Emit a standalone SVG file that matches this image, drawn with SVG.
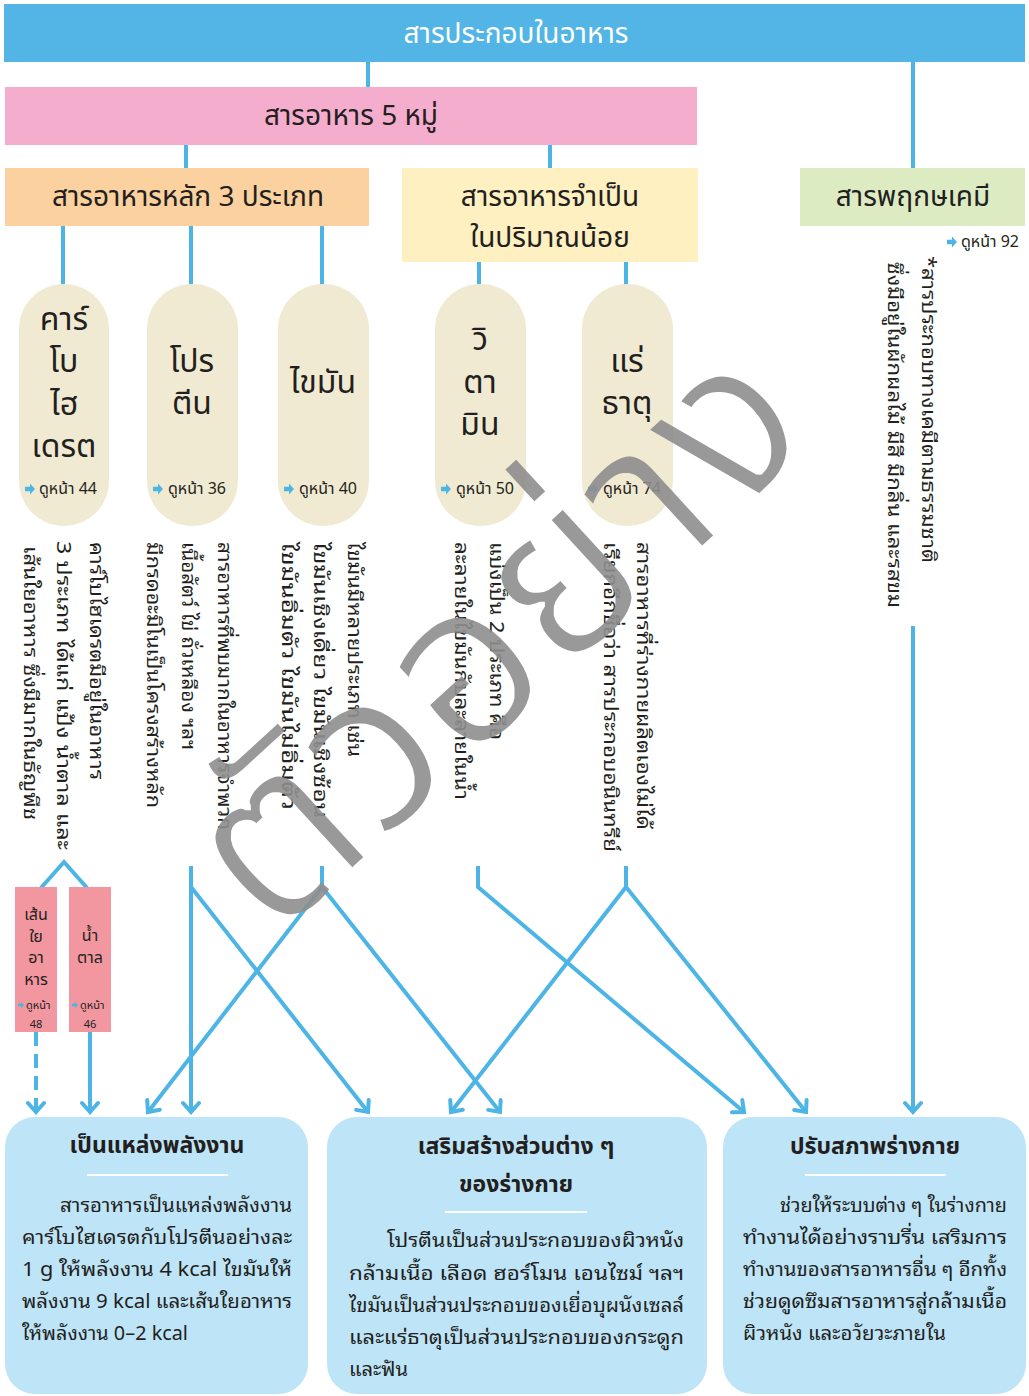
<svg xmlns="http://www.w3.org/2000/svg" xmlns:xlink="http://www.w3.org/1999/xlink" width="1029" height="1396" viewBox="0 0 1029 1396">
<defs>
<style>
.hd{font-family:"Noto Sans Thai","Noto Sans","DejaVu Sans",sans-serif;fill:#231F20;text-anchor:middle;dominant-baseline:central}
.wh{fill:#fff}
.pl{font-family:"Noto Sans Thai","Noto Sans","DejaVu Sans",sans-serif;fill:#231F20;font-size:32px;text-anchor:middle;dominant-baseline:central}
.pg{font-family:"Noto Sans Thai","Liberation Sans","DejaVu Sans",sans-serif;fill:#231F20;font-size:16px;dominant-baseline:central}
.pgs{font-family:"Noto Sans Thai","Liberation Sans","DejaVu Sans",sans-serif;fill:#231F20;font-size:11px;dominant-baseline:central}
.vt{font-family:"Noto Sans Thai Looped","Noto Sans Thai","DejaVu Sans",sans-serif;fill:#231F20;font-size:20px}
.bt{font-family:"Noto Sans Thai Looped","Noto Sans Thai","Liberation Sans",sans-serif;fill:#231F20;font-size:20px}
.tt{font-family:"Noto Sans Thai","Noto Sans","DejaVu Sans",sans-serif;fill:#231F20;font-size:23px;font-weight:bold;text-anchor:middle;dominant-baseline:central}
.ln{stroke:#4DB5E6;stroke-width:4;fill:none}
.ar{stroke:#4DB5E6;stroke-width:4;fill:none;marker-end:url(#ah)}
.pill{fill:#F1EAD2}
.sp{fill:#F2969F}
.bb{fill:#BEE4F7}
.dv{stroke:#fff;stroke-width:2}
.sm{font-family:"Noto Sans Thai","Noto Sans","DejaVu Sans",sans-serif;fill:#231F20;font-size:16px;text-anchor:middle;dominant-baseline:central}
.smn{font-family:"Noto Sans Thai","Liberation Sans","DejaVu Sans",sans-serif;fill:#231F20;font-size:11px;text-anchor:middle;dominant-baseline:central}
</style>
<marker id="ah" markerUnits="userSpaceOnUse" viewBox="0 0 20 20" markerWidth="20" markerHeight="20" refX="14" refY="10" orient="auto">
<path d="M5,2 L14,10 L5,18" fill="none" stroke="#4DB5E6" stroke-width="4" stroke-linecap="round"/>
</marker>
<path id="pa" d="M0,-2.2 H5 V-5.5 L10,0 L5,5.5 V2.2 H0 Z" fill="#4DB5E6"/>
<filter id="thin" filterUnits="userSpaceOnUse" x="0" y="0" width="1029" height="1396">
<feMorphology operator="erode" radius="2"/>
</filter>
</defs>
<rect width="1029" height="1396" fill="#fff"/>

<g id="connectors">
<line class="ln" x1="368" y1="60" x2="368" y2="89"/>
<line class="ln" x1="913" y1="60" x2="913" y2="170"/>
<line class="ln" x1="186" y1="144" x2="186" y2="170"/>
<line class="ln" x1="550" y1="144" x2="550" y2="170"/>
<line class="ln" x1="63" y1="224" x2="63" y2="286"/>
<line class="ln" x1="191" y1="224" x2="191" y2="286"/>
<line class="ln" x1="322" y1="224" x2="322" y2="286"/>
<line class="ln" x1="479" y1="260" x2="479" y2="286"/>
<line class="ln" x1="626" y1="260" x2="626" y2="286"/>
<polyline class="ln" points="40,889 64,862 88,889"/>
<line class="ar" x1="36" y1="1032" x2="36" y2="1112" stroke-dasharray="14,8"/>
<line class="ar" x1="90" y1="1032" x2="90" y2="1112"/>
<line class="ar" x1="191" y1="866" x2="191" y2="1112"/>
<polyline class="ar" points="191,866 191,887 368,1112"/>
<polyline class="ar" points="322,866 322,887 148,1112"/>
<polyline class="ar" points="322,887 500,1112"/>
<polyline class="ar" points="478,866 478,887 744,1112"/>
<polyline class="ar" points="626,866 626,887 451,1112"/>
<polyline class="ar" points="626,887 806,1112"/>
<line class="ar" x1="913" y1="626" x2="913" y2="1112"/>
</g>

<g id="n-top">
<rect x="4" y="4" width="1021" height="58" fill="#52B5E5"/>
<text class="hd wh" x="516" y="34" font-size="28">สารประกอบในอาหาร</text>
</g>
<g id="n-five">
<rect x="5" y="87" width="692" height="58" fill="#F5ADCD"/>
<text class="hd" x="351" y="116" font-size="28">สารอาหาร 5 หมู่</text>
</g>
<g id="n-main3">
<rect x="5" y="168" width="364" height="58" fill="#FBD19F"/>
<text class="hd" x="188" y="197" font-size="28">สารอาหารหลัก 3 ประเภท</text>
</g>
<g id="n-micro">
<rect x="402" y="168" width="296" height="94" fill="#FEF0C0"/>
<text class="hd" x="550" y="197" font-size="28">สารอาหารจำเป็น</text>
<text class="hd" x="550" y="238" font-size="28">ในปริมาณน้อย</text>
</g>
<g id="n-phyto">
<rect x="800" y="168" width="225" height="58" fill="#DDEBC3"/>
<text class="hd" x="913" y="197" font-size="28">สารพฤกษเคมี</text>
<use href="#pa" x="947" y="242"/>
<text class="pg" x="961" y="242">ดูหน้า 92</text>
<text class="vt" transform="translate(929,256) rotate(90)" y="7" textLength="307" lengthAdjust="spacingAndGlyphs">*สารประกอบทางเคมีตามธรรมชาติ</text>
<text class="vt" transform="translate(895,262) rotate(90)" y="7" textLength="346" lengthAdjust="spacingAndGlyphs">ซึ่งมีอยู่ในผักผลไม้ มีสี มีกลิ่น และรสขม</text>
</g>

<g id="n-carb">
<rect class="pill" x="19" y="284" width="90" height="242" rx="45"/>
<text class="pl" x="64" y="320">คาร์</text>
<text class="pl" x="64" y="362">โบ</text>
<text class="pl" x="64" y="405">ไฮ</text>
<text class="pl" x="64" y="447">เดรต</text>
<use href="#pa" x="25" y="489"/>
<text class="pg" x="39" y="489">ดูหน้า 44</text>
<text class="vt" transform="translate(97,542) rotate(90)" y="7" textLength="238" lengthAdjust="spacingAndGlyphs">คาร์โบไฮเดรตมีอยู่ในอาหาร</text>
<text class="vt" transform="translate(64,541) rotate(90)" y="7" textLength="309" lengthAdjust="spacingAndGlyphs">3 ประเภท ได้แก่ แป้ง น้ำตาล และ</text>
<text class="vt" transform="translate(31,546) rotate(90)" y="7" textLength="274" lengthAdjust="spacingAndGlyphs">เส้นใยอาหาร ซึ่งมีมากในธัญพืช</text>
</g>
<g id="n-protein">
<rect class="pill" x="147" y="284" width="91" height="242" rx="45"/>
<text class="pl" x="192" y="362">โปร</text>
<text class="pl" x="192" y="404">ตีน</text>
<use href="#pa" x="153" y="489"/>
<text class="pg" x="168" y="489">ดูหน้า 36</text>
<text class="vt" transform="translate(225,542) rotate(90)" y="7" textLength="288" lengthAdjust="spacingAndGlyphs">สารอาหารที่พบมากในอาหารจำพวก</text>
<text class="vt" transform="translate(189,542) rotate(90)" y="7" textLength="208" lengthAdjust="spacingAndGlyphs">เนื้อสัตว์ ไข่ ถั่วเหลือง ฯลฯ</text>
<text class="vt" transform="translate(154,542) rotate(90)" y="7" textLength="266" lengthAdjust="spacingAndGlyphs">มีกรดอะมิโนเป็นโครงสร้างหลัก</text>
</g>
<g id="n-fat">
<rect class="pill" x="278" y="284" width="91" height="242" rx="45"/>
<text class="pl" x="323" y="383">ไขมัน</text>
<use href="#pa" x="284" y="489"/>
<text class="pg" x="299" y="489">ดูหน้า 40</text>
<text class="vt" transform="translate(355,542) rotate(90)" y="7" textLength="215" lengthAdjust="spacingAndGlyphs">ไขมันมีหลายประเภท เช่น</text>
<text class="vt" transform="translate(321,542) rotate(90)" y="7" textLength="276" lengthAdjust="spacingAndGlyphs">ไขมันเชิงเดี่ยว ไขมันเชิงซ้อน</text>
<text class="vt" transform="translate(289,542) rotate(90)" y="7" textLength="268" lengthAdjust="spacingAndGlyphs">ไขมันอิ่มตัว ไขมันไม่อิ่มตัว</text>
</g>
<g id="n-vitamin">
<rect class="pill" x="435" y="284" width="91" height="242" rx="45"/>
<text class="pl" x="480" y="340">วิ</text>
<text class="pl" x="480" y="383">ตา</text>
<text class="pl" x="480" y="425">มิน</text>
<use href="#pa" x="441" y="489"/>
<text class="pg" x="456" y="489">ดูหน้า 50</text>
<text class="vt" transform="translate(497,542) rotate(90)" y="7" textLength="198" lengthAdjust="spacingAndGlyphs">แบ่งเป็น 2 ประเภท คือ</text>
<text class="vt" transform="translate(462,542) rotate(90)" y="7" textLength="258" lengthAdjust="spacingAndGlyphs">ละลายในไขมันกับละลายในน้ำ</text>
</g>
<g id="n-mineral">
<rect class="pill" x="582" y="284" width="91" height="242" rx="45"/>
<text class="pl" x="627" y="362">แร่</text>
<text class="pl" x="627" y="404">ธาตุ</text>
<use href="#pa" x="588" y="489"/>
<text class="pg" x="603" y="489">ดูหน้า 74</text>
<text class="vt" transform="translate(644,542) rotate(90)" y="7" textLength="288" lengthAdjust="spacingAndGlyphs">สารอาหารที่ร่างกายผลิตเองไม่ได้</text>
<text class="vt" transform="translate(611,542) rotate(90)" y="7" textLength="310" lengthAdjust="spacingAndGlyphs">เรียกอีกชื่อว่า สารประกอบอนินทรีย์</text>
</g>

<g id="n-fibre">
<rect class="sp" x="15" y="887" width="42" height="145"/>
<text class="sm" x="36" y="915">เส้น</text>
<text class="sm" x="36" y="937">ใย</text>
<text class="sm" x="36" y="958">อา</text>
<text class="sm" x="36" y="980">หาร</text>
<use href="#pa" transform="translate(18,1005) scale(0.6)"/>
<text class="pgs" x="26" y="1005">ดูหน้า</text>
<text class="smn" x="36" y="1024">48</text>
</g>
<g id="n-sugar">
<rect class="sp" x="69" y="887" width="42" height="145"/>
<text class="sm" x="90" y="936">น้ำ</text>
<text class="sm" x="90" y="958">ตาล</text>
<use href="#pa" transform="translate(72,1005) scale(0.6)"/>
<text class="pgs" x="80" y="1005">ดูหน้า</text>
<text class="smn" x="90" y="1024">46</text>
</g>

<g id="n-energy">
<rect class="bb" x="5" y="1117" width="303" height="277" rx="30"/>
<text class="tt" x="157" y="1146">เป็นแหล่งพลังงาน</text>
<line class="dv" x1="87" y1="1175" x2="228" y2="1175"/>
<text class="bt" x="60" y="1212" textLength="232" lengthAdjust="spacingAndGlyphs">สารอาหารเป็นแหล่งพลังงาน</text>
<text class="bt" x="22" y="1244" textLength="270" lengthAdjust="spacingAndGlyphs">คาร์โบไฮเดรตกับโปรตีนอย่างละ</text>
<text class="bt" x="22" y="1276" textLength="270" lengthAdjust="spacingAndGlyphs">1 g ให้พลังงาน 4 kcal  ไขมันให้</text>
<text class="bt" x="22" y="1308" textLength="270" lengthAdjust="spacingAndGlyphs">พลังงาน 9 kcal และเส้นใยอาหาร</text>
<text class="bt" x="22" y="1340" textLength="166" lengthAdjust="spacingAndGlyphs">ให้พลังงาน 0–2 kcal</text>
</g>
<g id="n-build">
<rect class="bb" x="327" y="1117" width="380" height="277" rx="30"/>
<text class="tt" x="516" y="1147">เสริมสร้างส่วนต่าง ๆ</text>
<text class="tt" x="516" y="1185">ของร่างกาย</text>
<line class="dv" x1="445" y1="1212" x2="587" y2="1212"/>
<text class="bt" x="387" y="1247" textLength="297" lengthAdjust="spacingAndGlyphs">โปรตีนเป็นส่วนประกอบของผิวหนัง</text>
<text class="bt" x="349" y="1280" textLength="335" lengthAdjust="spacingAndGlyphs">กล้ามเนื้อ เลือด ฮอร์โมน เอนไซม์ ฯลฯ</text>
<text class="bt" x="349" y="1312" textLength="335" lengthAdjust="spacingAndGlyphs">ไขมันเป็นส่วนประกอบของเยื่อบุผนังเซลล์</text>
<text class="bt" x="349" y="1344" textLength="335" lengthAdjust="spacingAndGlyphs">และแร่ธาตุเป็นส่วนประกอบของกระดูก</text>
<text class="bt" x="349" y="1376" textLength="59" lengthAdjust="spacingAndGlyphs">และฟัน</text>
</g>
<g id="n-regulate">
<rect class="bb" x="723" y="1117" width="303" height="277" rx="30"/>
<text class="tt" x="875" y="1147">ปรับสภาพร่างกาย</text>
<line class="dv" x1="805" y1="1175" x2="946" y2="1175"/>
<text class="bt" x="780" y="1212" textLength="227" lengthAdjust="spacingAndGlyphs">ช่วยให้ระบบต่าง ๆ ในร่างกาย</text>
<text class="bt" x="743" y="1244" textLength="264" lengthAdjust="spacingAndGlyphs">ทำงานได้อย่างราบรื่น เสริมการ</text>
<text class="bt" x="743" y="1276" textLength="264" lengthAdjust="spacingAndGlyphs">ทำงานของสารอาหารอื่น ๆ อีกทั้ง</text>
<text class="bt" x="743" y="1308" textLength="264" lengthAdjust="spacingAndGlyphs">ช่วยดูดซึมสารอาหารสู่กล้ามเนื้อ</text>
<text class="bt" x="743" y="1340" textLength="203" lengthAdjust="spacingAndGlyphs">ผิวหนัง และอวัยวะภายใน</text>
</g>

<g id="watermark" filter="url(#thin)" opacity="0.9">
<text x="500" y="640" transform="rotate(-42.6,500,640)" font-family="Noto Sans Thai,DejaVu Sans,sans-serif" font-size="230" fill="#8E8E8E" text-anchor="middle" dominant-baseline="central">ตัวอย่าง</text>
</g>
</svg>
